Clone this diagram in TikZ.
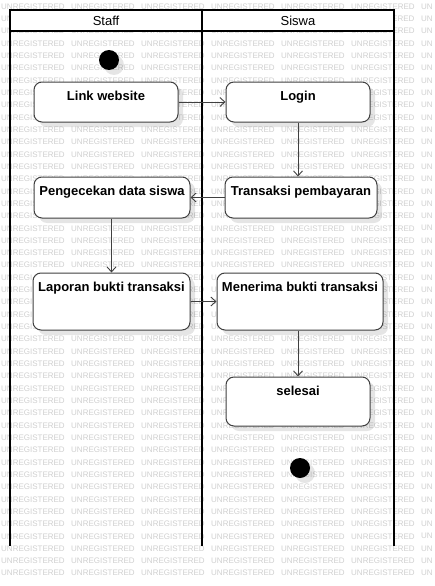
\documentclass[tikz,border=0pt]{standalone}
\usepackage{fontspec}
\setmainfont{Liberation Sans}
\usetikzlibrary{arrows.meta,shadows}
\definecolor{wm}{HTML}{D0D0D0}
\definecolor{edgec}{HTML}{404040}
\tikzset{
  wmk/.style={inner sep=0pt, anchor=west, text=wm, font=\fontsize{8}{9}\selectfont},
  wmkr/.style={wmk, anchor=east},
  lane/.style={line width=2pt, draw=black},
  lanehead/.style={inner sep=0pt, font=\fontsize{13}{15}\selectfont},
  shade/.style={drop shadow={shadow xshift=5pt, shadow yshift=-5pt, opacity=0.10, fill=black}},
  act/.style={shade, draw=edgec, line width=1pt, fill=white, rounded corners=8pt,
    inner xsep=0pt, inner ysep=0pt, text height=18pt,
    font=\fontsize{13}{15}\selectfont\bfseries},
  dot/.style={shade, circle, fill=black, draw=none, minimum size=20pt, inner sep=0pt},
  flow/.style={draw=edgec, line width=0.9pt, -{Straight Barb[length=5pt,width=9pt]}}
}
\newcount\wmmode
\newcount\wmn
\def\wmstarts{0,5.78,11.56,17.34,22.68,28.9,31.12,36.46,41.35,46.69,52.47,57.81}
\def\wmends{5.78,11.56,17.34,22.68,28.9,31.12,36.46,41.35,46.69,52.47,57.81,63.59}
\def\wmboxes{10/10/394/31, 34/82/178/122, 226/82/370/123,
        34/177/190/218, 225/177/377/218, 33/273/190/330, 217/273/383/330, 226/377/370/426}
\newcommand\wmprefix[1]{\ifcase#1\or U\or UN\or UNR\or UNRE\or UNREG\or UNREGI\or UNREGIS\or UNREGIST\or UNREGISTE\or UNREGISTER\or UNREGISTERE\or UNREGISTERED\fi}
\newcommand\wmsuffix[1]{\ifcase#1 UNREGISTERED\or NREGISTERED\or REGISTERED\or EGISTERED\or GISTERED\or ISTERED\or STERED\or TERED\or ERED\or RED\or ED\or D\fi}
\begin{document}
\begin{tikzpicture}[x=1pt,y=-1pt]
\useasboundingbox (0,0) rectangle (434,586);
\fill[white] (0,0) rectangle (434,586);
% watermark: only the parts not covered by a white box are set
\foreach \r in {0,...,46} {
  \foreach \c in {0,...,6} {
    \pgfmathsetmacro\wx{70*\c+1}
    \pgfmathsetmacro\wy{6.5+12.32*\r}
    \global\wmmode=0
    \foreach \xa/\ya/\xb/\yb in \wmboxes {
      \pgfmathtruncatemacro\vin{((\wy-3.5>=\ya)&&(\wy+3.5<=\yb))?1:0}
      \ifnum\vin=1
        \pgfmathtruncatemacro\full{((\wx>=\xa)&&(\wx+63.6<=\xb))?1:0}
        \pgfmathtruncatemacro\rcov{((\xa>\wx)&&(\xa<\wx+63.6)&&(\xb>=\wx+63.6))?1:0}
        \pgfmathtruncatemacro\lcov{((\xb>\wx)&&(\xb<\wx+63.6)&&(\xa<=\wx))?1:0}
        \ifnum\full=1 \global\wmmode=1 \fi
        \ifnum\rcov=1 \global\wmmode=2 \pgfmathsetmacro\tmp{\xa-\wx-1}\xdef\wmlim{\tmp}\fi
        \ifnum\lcov=1 \global\wmmode=3 \pgfmathsetmacro\tmp{\xb-\wx+1}\xdef\wmlim{\tmp}\fi
      \fi
    }
    \ifnum\c=6
      \node[wmk] (w-\r-\c) at (\wx,\wy) {UN};
    \else
      \ifcase\wmmode
        \node[wmk] (w-\r-\c) at (\wx,\wy) {UNREGISTERED};
      \or
      \or
        \global\wmn=0
        \foreach \s in \wmstarts {
          \pgfmathtruncatemacro\lt{(\s<\wmlim)?1:0}
          \ifnum\lt=1 \global\advance\wmn by 1 \fi
        }
        \ifnum\wmn>0
          \node[wmk] (w-\r-\c) at (\wx,\wy) {\wmprefix{\the\wmn}};
        \fi
      \or
        \global\wmn=0
        \foreach \s in \wmends {
          \pgfmathtruncatemacro\lt{(\s<=\wmlim)?1:0}
          \ifnum\lt=1 \global\advance\wmn by 1 \fi
        }
        \ifnum\wmn<12
          \node[wmkr] (w-\r-\c) at ({\wx+63.59},\wy) {\wmsuffix{\the\wmn}};
        \fi
      \fi
    \fi
  }
}
% swimlane header
\fill[white] (10,10) rectangle (394,31);
\node[lanehead] (staffh) at (106,20.5) {Staff};
\node[lanehead] (siswah) at (298,20.5) {Siswa};
\draw[lane] (9,10) -- (395,10);
\draw[lane] (10,31) -- (394,31);
\draw[lane] (10,10) -- (10,546);
\draw[lane] (202,10) -- (202,546);
\draw[lane] (394,10) -- (394,546);
% initial and final
\node[dot] (start) at (109,60) {};
\node[dot] (final) at (300,468) {};
% activities
\node[act, minimum width=144pt, text depth=22pt] (link) at (106,102) {Link website};
\node[act, minimum width=144pt, text depth=22pt] (login) at (298,102) {Login};
\node[act, minimum width=156pt, text depth=23pt] (cek) at (112,197.5) {Pengecekan data siswa};
\node[act, minimum width=152pt, text depth=23pt] (trans) at (301,197.5) {Transaksi pembayaran};
\node[act, minimum width=157pt, text depth=39pt] (lapor) at (111.5,301.5) {Laporan bukti transaksi};
\node[act, minimum width=166pt, text depth=39pt] (terima) at (300,301.5) {Menerima bukti transaksi};
\node[act, minimum width=144pt, text depth=31pt] (selesai) at (298,401.5) {selesai};
% flows
\draw[flow] (link.east) -- (login.west);
\draw[flow] (login.south) -- (login.south |- trans.north);
\draw[flow] (trans.west) -- (cek.east);
\draw[flow] (cek.south -| lapor.north) -- (lapor.north);
\draw[flow] (lapor.east) -- (terima.west);
\draw[flow] (terima.south -| selesai.north) -- (selesai.north);
\end{tikzpicture}
\end{document}
